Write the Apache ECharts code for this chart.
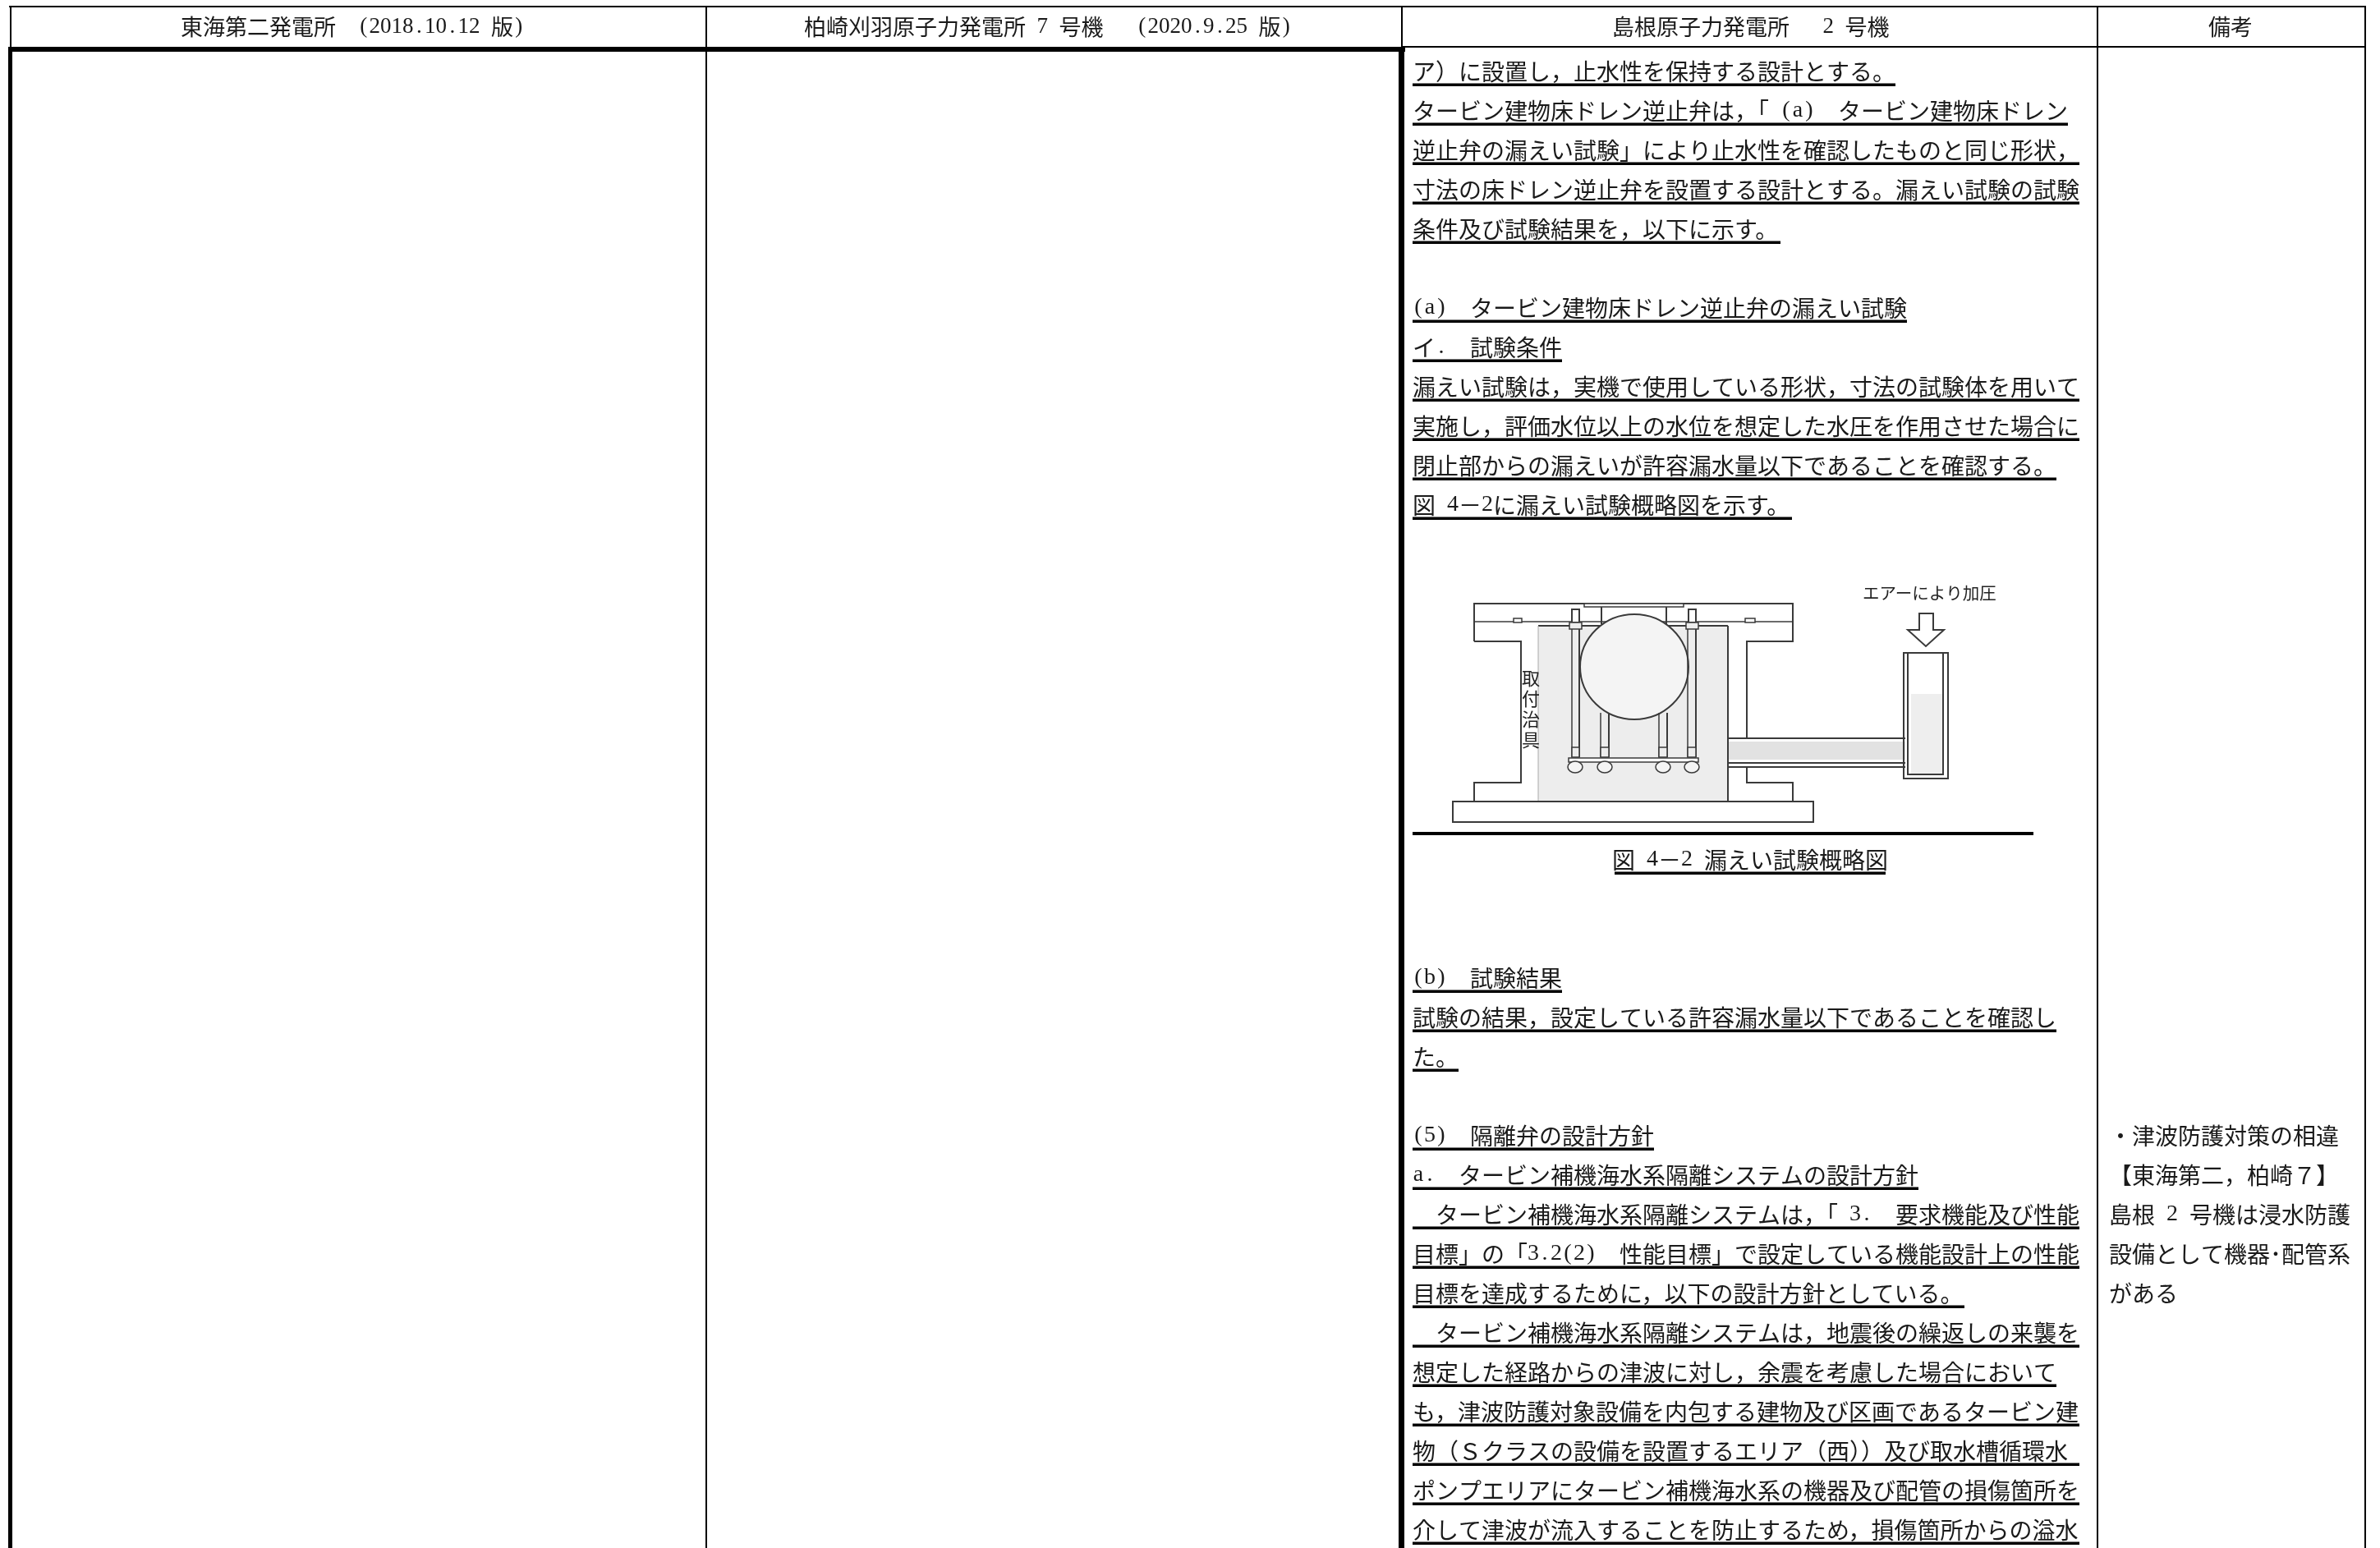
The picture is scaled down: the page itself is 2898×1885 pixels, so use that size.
<!DOCTYPE html>
<html lang="ja">
<head>
<meta charset="utf-8">
<title>比較表</title>
<style>html,body{margin:0;padding:0;background:#fff}#main{width:2898px;height:1885px}</style>
<script src="https://cdn.jsdelivr.net/npm/echarts@6/dist/echarts.min.js"></script>
</head>
<body>
<div id="main"></div>
<script>
// ---------- text content ----------
const headerLabels = [
  '東海第二発電所　(2018.10.12 版)',
  '柏崎刈羽原子力発電所 7 号機　 (2020.9.25 版)',
  '島根原子力発電所　 2 号機',
  '備考'
];
const bodyLines = [
  'ア）に設置し，止水性を保持する設計とする。',
  'タービン建物床ドレン逆止弁は，「(a)　タービン建物床ドレン',
  '逆止弁の漏えい試験」により止水性を確認したものと同じ形状，',
  '寸法の床ドレン逆止弁を設置する設計とする。漏えい試験の試験',
  '条件及び試験結果を，以下に示す。',
  '',
  '(a)　タービン建物床ドレン逆止弁の漏えい試験',
  'イ.　試験条件',
  '漏えい試験は，実機で使用している形状，寸法の試験体を用いて',
  '実施し，評価水位以上の水位を想定した水圧を作用させた場合に',
  '閉止部からの漏えいが許容漏水量以下であることを確認する。',
  '図 4－2に漏えい試験概略図を示す。',
  '', '', '', '', '', '', '', '', '', '', '',
  '(b)　試験結果',
  '試験の結果，設定している許容漏水量以下であることを確認し',
  'た。',
  '',
  '(5)　隔離弁の設計方針',
  'a.　タービン補機海水系隔離システムの設計方針',
  '　タービン補機海水系隔離システムは，「3.　要求機能及び性能',
  '目標」の「3.2(2)　性能目標」で設定している機能設計上の性能',
  '目標を達成するために，以下の設計方針としている。',
  '　タービン補機海水系隔離システムは，地震後の繰返しの来襲を',
  '想定した経路からの津波に対し，余震を考慮した場合において',
  'も，津波防護対象設備を内包する建物及び区画であるタービン建',
  '物（Ｓクラスの設備を設置するエリア（西））及び取水槽循環水',
  'ポンプエリアにタービン補機海水系の機器及び配管の損傷箇所を',
  '介して津波が流入することを防止するため，損傷箇所からの溢水'
];
const captionText = '図 4－2 漏えい試験概略図';
const remarkLines = [
  '・津波防護対策の相違',
  '【東海第二，柏崎７】',
  '島根 2 号機は浸水防護',
  '設備として機器･配管系',
  'がある'
];
const figureLabel = 'エアーにより加圧';
const figureSideLabel = '取\n付\n治\n具';

// ---------- layout ----------
const PAGE_W = 2898, PAGE_H = 1885;
const headerStartX = [220, 979, 1963, 2689];
const HEADER_Y = 33, HEADER_FONT = 27;
const BODY_X = 1720, BODY_Y0 = 87, LINE_H = 48, BODY_FONT = 28;
const CAPTION_X = 1963, CAPTION_LINE = 20;
const REMARK_X = 2568, REMARK_LINE = 27;
const CJK = '"Noto Sans CJK JP"';
const LATIN = '"Liberation Serif"';
const INK = '#1a1a1a';

function isHalf(ch) {
  const c = ch.charCodeAt(0);
  return c < 0x100 || (c >= 0xFF61 && c <= 0xFF9F);
}
function splitRuns(s) {
  const runs = [];
  for (const ch of s) {
    const h = isHalf(ch) && ch !== '･';
    const last = runs[runs.length - 1];
    if (last && last.ascii === h) last.text += ch; else runs.push({ ascii: h, text: ch });
  }
  return runs;
}
function cellWidth(s, size) {
  let w = 0;
  for (const ch of s) w += isHalf(ch) ? size / 2 : size;
  return w;
}

function renderPage(params, api) {
  const kids = [];
  const px = (x, y) => api.coord([x, y]);

  const rect = (x0, y0, x1, y1, fill, stroke, lw) => {
    const a = px(x0, y0), b = px(x1, y1);
    kids.push({
      type: 'rect', silent: true,
      shape: { x: a[0], y: a[1], width: b[0] - a[0], height: b[1] - a[1] },
      style: { fill: fill || 'none', stroke: stroke || 'none', lineWidth: lw || 0 }
    });
  };
  const poly = (pts, closed, fill, lw, color) => {
    kids.push({
      type: closed ? 'polygon' : 'polyline', silent: true,
      shape: { points: pts.map(p => px(p[0], p[1])) },
      style: { fill: fill || 'none', stroke: color || '#3a3a3a', lineWidth: lw || 2 }
    });
  };
  const ell = (cx, cy, rx, ry, fill, lw) => {
    const c = px(cx, cy);
    kids.push({
      type: 'ellipse', silent: true,
      shape: { cx: c[0], cy: c[1], rx: rx, ry: ry },
      style: { fill: fill, stroke: '#3a3a3a', lineWidth: lw || 2 }
    });
  };
  const text = (x, y, s, size, family, align, color) => {
    const p = px(x, y);
    kids.push({
      type: 'text', silent: true,
      x: p[0], y: p[1],
      style: {
        x: 0, y: 0, text: s, fill: color || INK,
        font: size + 'px ' + family,
        textAlign: align || 'left', textVerticalAlign: 'middle', align: align || 'left', verticalAlign: 'middle'
      }
    });
  };
  // places a line on a full/half-width character grid and returns the used extent
  const line = (x, y, s, size) => {
    let cur = x, first = null;
    splitRuns(s).forEach(run => {
      if (run.text.trim() !== '' && first === null) first = cur;
      if (run.ascii) {
        let c = cur;
        (run.text.match(/[0-9]+|[^0-9]/g) || []).forEach(tok => {
          if (/^[0-9]/.test(tok)) text(c, y, tok, size, LATIN);
          else if (tok !== ' ') text(c + size / 4, y, tok, size, LATIN, 'center');
          c += tok.length * size / 2;
        });
      } else if (run.text.trim() !== '') {
        text(cur, y, run.text, size, CJK);
      }
      cur += cellWidth(run.text, size);
    });
    return [first === null ? x : first, cur];
  };
  const underline = (x0, x1, y) => rect(x0, y + 14.5, x1, y + 18, '#000');

  // --- figure ---
  const G = '#ededed';
  rect(1873, 762, 2104, 976, G);
  rect(2104, 903, 2320, 925, '#e2e2e2');
  rect(2327, 845, 2365, 942, '#eeeeee');
  poly([[1795,781],[1795,735],[2183,735],[2183,781],[2127,781],[2127,899]]);
  poly([[1795,781],[1852,781],[1852,953],[1795,953],[1795,976]]);
  poly([[2127,934],[2127,953],[2183,953],[2183,976]]);
  poly([[1873,762],[1965,762]], false, null, 2); poly([[2015,762],[2104,762]], false, null, 2);
  poly([[1795,757],[2183,757]], false, null, 1.5);
  poly([[1873,762],[1873,976]], false, null, 1, '#aaa');
  poly([[2104,762],[2104,976]], false, null, 2);
  rect(1769, 976, 2208, 1001, '#fff', '#3a3a3a', 2);
  rect(1929, 735, 2050, 739, '#fff', '#3a3a3a', 1.5);
  poly([[1950,739],[1950,760]]); poly([[2029,739],[2029,760]]);
  rect(1843, 753, 1853, 758, '#fff', '#3a3a3a', 1.5);
  rect(2125, 753, 2137, 758, '#fff', '#3a3a3a', 1.5);
  ell(1990, 812, 66, 64, '#f4f4f4', 2);
  [[1914,1923,757],[2055,2065,757],[1949,1959,868],[2020,2030,868]].forEach(r => {
    poly([[r[0], r[2]], [r[0], 922]], false, null, 1.5);
    poly([[r[1], r[2]], [r[1], 922]], false, null, 2);
    rect(r[0], 910, r[1], 922, G, '#3a3a3a', 1.5);
  });
  rect(1914, 742, 1923, 758, '#fff', '#3a3a3a', 2);
  rect(2056, 742, 2065, 758, '#fff', '#3a3a3a', 2);
  rect(1911, 758, 1926, 766, G, '#3a3a3a', 1.5);
  rect(2053, 758, 2068, 766, G, '#3a3a3a', 1.5);
  rect(1910, 923, 2068, 928, '#fff', '#3a3a3a', 1.5);
  [1918, 1954, 2025, 2060].forEach(cx => ell(cx, 934, 9, 7, '#f4f4f4', 1.5));
  poly([[2104,899],[2320,899]]); poly([[2104,929],[2320,929]]); poly([[2104,934],[2320,934]]);
  poly([[2318,795],[2372,795],[2372,948],[2318,948]], true, 'none', 2);
  poly([[2323,795],[2323,943],[2366,943],[2366,795]], false, null, 2);
  poly([[2337,747],[2354,747],[2354,767],[2367,767],[2345,787],[2323,767],[2337,767]], true, '#fff', 2);
  text(2268, 722, figureLabel, 20.5, CJK, 'left', '#222');
  {
    const p = px(1853, 813);
    kids.push({
      type: 'text', silent: true, x: p[0], y: p[1],
      style: { x: 0, y: 0, text: figureSideLabel, fill: '#222', font: '22px ' + CJK, lineHeight: 25, textAlign: 'left', textVerticalAlign: 'top', align: 'left', verticalAlign: 'top' }
    });
  }

  // --- table rules ---
  rect(11, 7, 2881, 9, '#000');               // top edge
  rect(12, 7, 14, 57, '#000');                // left, header
  rect(10, 57, 15, PAGE_H, '#000');           // left, body
  rect(10, 57, 1711, 63, '#000');             // thick header rule
  rect(1706, 56, 2881, 58, '#000');           // thin header rule
  rect(859, 7, 861, PAGE_H, '#000');
  rect(1706, 7, 1708, 57, '#000');
  rect(1703, 57, 1710, PAGE_H, '#000');
  rect(2553, 7, 2555, PAGE_H, '#000');
  rect(2879, 7, 2881, PAGE_H, '#000');

  // --- header ---
  headerLabels.forEach((s, i) => line(headerStartX[i], HEADER_Y, s, HEADER_FONT));

  // --- body lines with underline ---
  bodyLines.forEach((s, k) => {
    if (!s) return;
    const y = BODY_Y0 + k * LINE_H;
    const ext = line(BODY_X, y, s, BODY_FONT);
    underline(ext[0], ext[1], y);
  });
  { // figure rule and caption
    const y = BODY_Y0 + CAPTION_LINE * LINE_H;
    rect(BODY_X, 1013, 2476, 1017, '#000');
    const ext = line(CAPTION_X, y, captionText, BODY_FONT);
    underline(ext[0] + 3, ext[1] - 3, y);
  }

  // --- remarks ---
  remarkLines.forEach((s, k) => line(REMARK_X, BODY_Y0 + (REMARK_LINE + k) * LINE_H, s, BODY_FONT));

  return { type: 'group', children: kids };
}

const chart = echarts.init(document.getElementById('main'), null, { width: PAGE_W, height: PAGE_H });
chart.setOption({
  animation: false,
  backgroundColor: '#ffffff',
  tooltip: { show: false },
  grid: { left: 0, right: 0, top: 0, bottom: 0, containLabel: false },
  xAxis: { type: 'value', min: 0, max: PAGE_W, show: false },
  yAxis: { type: 'value', min: 0, max: PAGE_H, inverse: true, show: false },
  series: [{
    type: 'custom',
    coordinateSystem: 'cartesian2d',
    clip: false,
    silent: true,
    renderItem: renderPage,
    data: [[0, 0]]
  }]
});
</script>
</body>
</html>
